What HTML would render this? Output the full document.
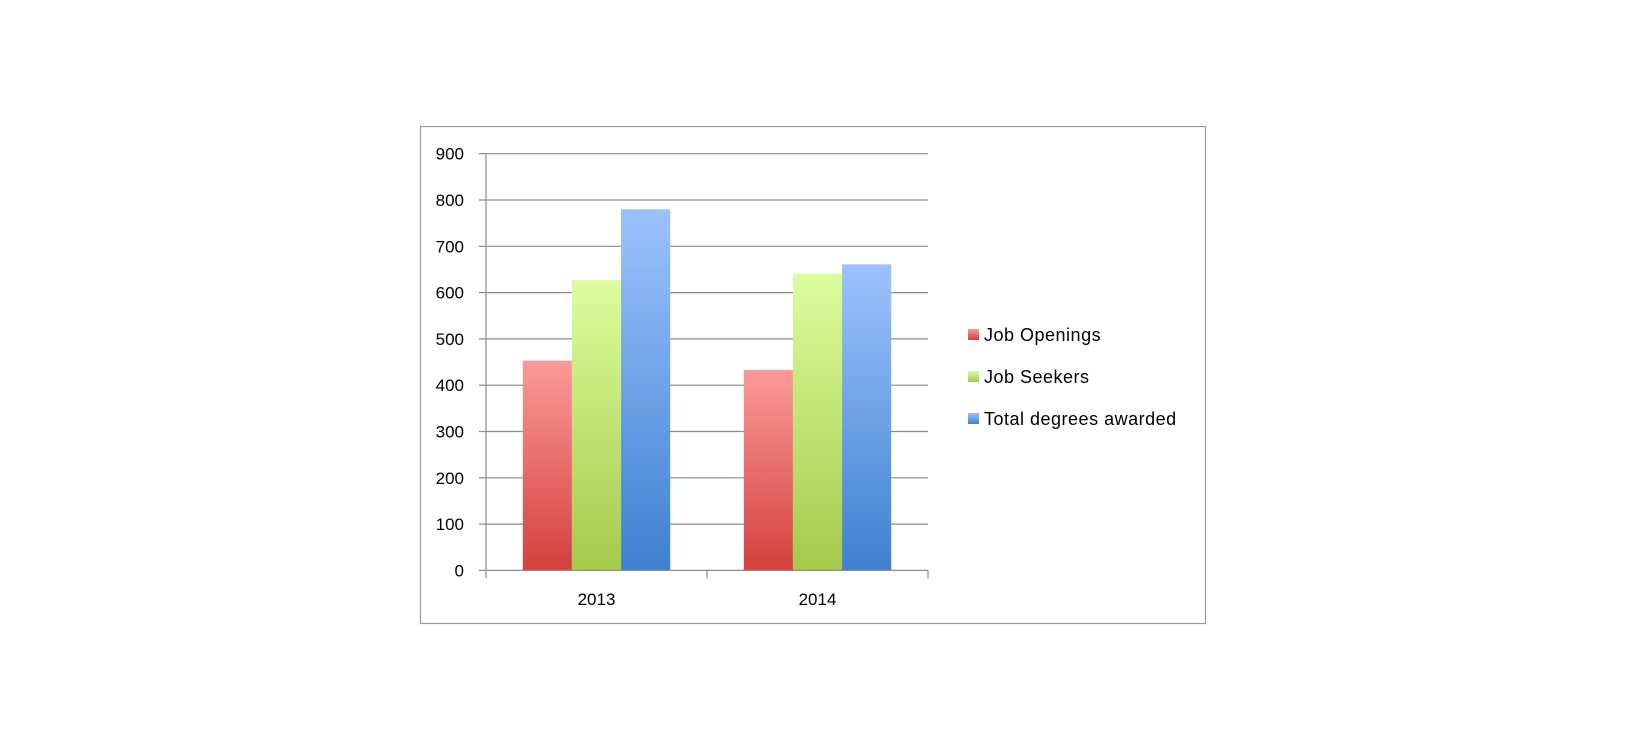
<!DOCTYPE html>
<html><head><meta charset="utf-8">
<style>
body{margin:0;background:#fff;width:1625px;height:750px;overflow:hidden;font-family:"Liberation Sans",sans-serif}
</style></head><body>
<svg width="1625" height="750" id="svg" font-family="Liberation Sans, sans-serif">
<defs>
<linearGradient id="gR" x1="0" y1="0" x2="0" y2="1"><stop offset="0" stop-color="#fb9a98"/><stop offset="1" stop-color="#d4403d"/></linearGradient>
<linearGradient id="gG" x1="0" y1="0" x2="0" y2="1"><stop offset="0" stop-color="#dcfd9d"/><stop offset="1" stop-color="#a3ca4c"/></linearGradient>
<linearGradient id="gB" x1="0" y1="0" x2="0" y2="1"><stop offset="0" stop-color="#9cc2fd"/><stop offset="1" stop-color="#3f80d0"/></linearGradient>
</defs>
<rect x="420.5" y="126.5" width="785" height="497" fill="#fff" stroke="#999" stroke-width="1.2"/>
<g id="grid"></g><g id="bars"></g><g id="axes"></g><g id="legend"></g>
</svg>
<script>
const categories=["2013","2014"];
const seriesNames=["Job Openings","Job Seekers","Total degrees awarded"];
const jobOpenings=[453,433];
const jobSeekers=[627,641];
const totalDegrees=[780,661];
const yTicks=[0,100,200,300,400,500,600,700,800,900];
const NS="http://www.w3.org/2000/svg";
const X0=486,X1=928,Y0=570.4,Y1=153.7,YMAX=900;
const y=v=>Y0-(v/YMAX)*(Y0-Y1);
const catW=(X1-X0)/categories.length;
function mk(t,a,p){const e=document.createElementNS(NS,t);for(const k in a)e.setAttribute(k,a[k]);p.appendChild(e);return e;}
const grid=document.getElementById('grid'),bars=document.getElementById('bars'),axes=document.getElementById('axes'),leg=document.getElementById('legend');
yTicks.forEach(v=>{
  if(v>0){const l=mk('line',{x1:X0,x2:X1,y1:y(v),y2:y(v),stroke:'#8c8c8c','stroke-width':1.2},grid);
  
  }
  const tk=mk('line',{x1:X0-7,x2:X0,y1:y(v),y2:y(v),stroke:'#8c8c8c','stroke-width':1.2},axes);
  
  
  const t=mk('text',{x:464,y:y(v)+6,'text-anchor':'end','font-size':17,fill:'#000'},axes);
  t.textContent=v;
  
  
});
const ax=mk('path',{d:`M${X0} ${Y1}V${Y0}H${X1}`,fill:'none',stroke:'#8c8c8c','stroke-width':1.2},axes);


const series=[jobOpenings,jobSeekers,totalDegrees],fills=['url(#gR)','url(#gG)','url(#gB)'];
const gap=catW*0.1665,bw=(catW-2*gap)/3;
categories.forEach((c,i)=>{
  const cx=X0+i*catW;
  const tk=mk('line',{x1:cx+catW,x2:cx+catW,y1:Y0,y2:Y0+8,stroke:'#8c8c8c','stroke-width':1.2},axes);
  
  
  if(i==0){const t0=mk('line',{x1:X0,x2:X0,y1:Y0,y2:Y0+8,stroke:'#8c8c8c','stroke-width':1.2},axes);
  
  }
  series.forEach((s,j)=>{
    const r=mk('rect',{x:cx+gap+j*bw,y:y(s[i]),width:bw,height:Y0-y(s[i]),fill:fills[j]},bars);
    
    
  });
  const t=mk('text',{x:cx+catW/2,y:605,'text-anchor':'middle','font-size':17,fill:'#000'},axes);
  t.textContent=c;
  
  
});
const ly=[335,377,419];
seriesNames.forEach((n,j)=>{
  const r=mk('rect',{x:968,y:ly[j]-6,width:11,height:11,fill:fills[j]},leg);
  
  
  const t=mk('text',{x:984,y:ly[j]+6,'font-size':18,'letter-spacing':0.5,fill:'#000'},leg);
  t.textContent=n;
  
  
});
</script>
</body></html>
